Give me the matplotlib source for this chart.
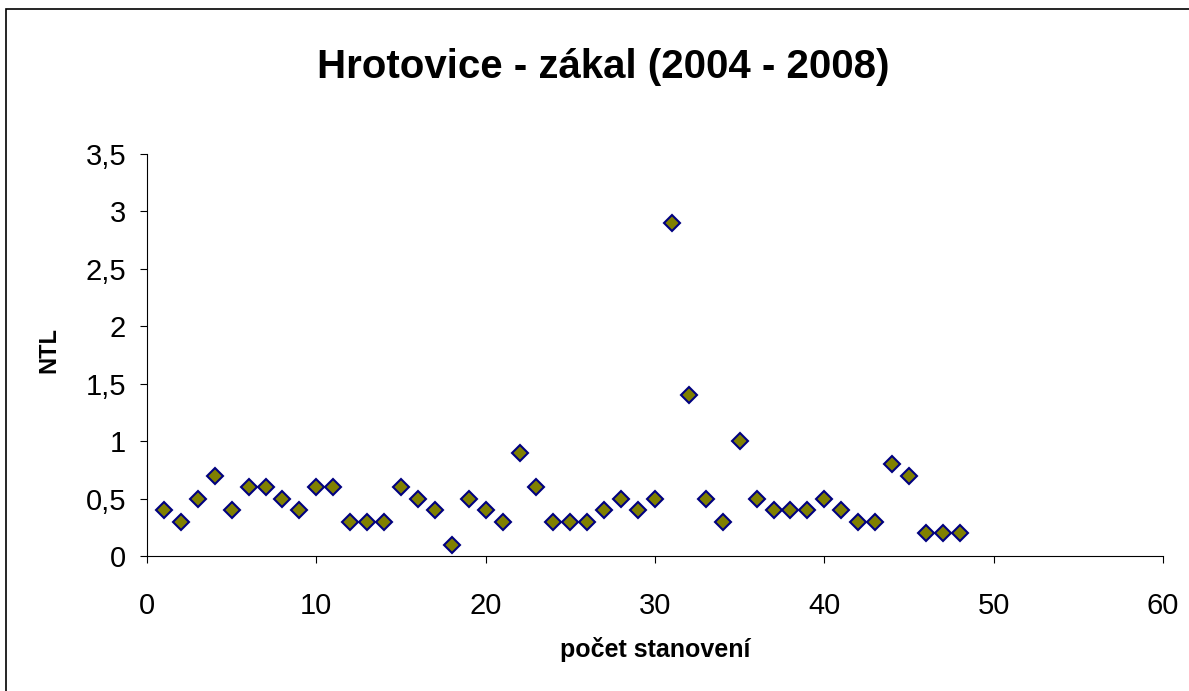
import matplotlib.pyplot as plt
from matplotlib.patches import Rectangle
from matplotlib.ticker import FuncFormatter

plt.rcParams['font.family'] = ['Liberation Sans', 'DejaVu Sans']

# data
x_vals = list(range(1, 49))
ntl = [0.4, 0.3, 0.5, 0.7, 0.4, 0.6, 0.6, 0.5, 0.4, 0.6,
       0.6, 0.3, 0.3, 0.3, 0.6, 0.5, 0.4, 0.1, 0.5, 0.4,
       0.3, 0.9, 0.6, 0.3, 0.3, 0.3, 0.4, 0.5, 0.4, 0.5,
       2.9, 1.4, 0.5, 0.3, 1.0, 0.5, 0.4, 0.4, 0.4, 0.5,
       0.4, 0.3, 0.3, 0.8, 0.7, 0.2, 0.2, 0.2]
x_ticks = [0, 10, 20, 30, 40, 50, 60]
y_ticks = [0, 0.5, 1, 1.5, 2, 2.5, 3, 3.5]

W, H = 1189, 691
fig = plt.figure(figsize=(W / 100, H / 100), dpi=100)

# outer chart border (right/bottom edges fall outside the image)
fig.patches.append(Rectangle((6 / W, -0.05), 1.2, 1 - 9 / H + 0.05,
                             transform=fig.transFigure, fill=False,
                             edgecolor="black", linewidth=1.2))

ax = fig.add_axes([147 / W, 135 / H, (1163 - 147) / W, (556 - 154) / H])

ax.plot(x_vals, ntl, linestyle="none", marker="D", markersize=8,
        markerfacecolor="#808000", markeredgecolor="#000080",
        markeredgewidth=1.5, clip_on=False)

ax.set_xlim(0, 60)
ax.set_ylim(0, 3.5)
ax.set_xticks(x_ticks)
ax.set_yticks(y_ticks)

fmt = FuncFormatter(lambda v, p: f"{v:g}".replace(".", ","))
ax.xaxis.set_major_formatter(fmt)
ax.yaxis.set_major_formatter(fmt)

ax.spines["top"].set_visible(False)
ax.spines["right"].set_visible(False)
ax.tick_params(axis="x", direction="out", length=5, pad=21, labelsize=21)
ax.tick_params(axis="y", direction="out", length=5, pad=10, labelsize=21)

ax.set_xlabel("počet stanovení", fontsize=18, fontweight="bold")
ax.xaxis.label.set_va("center")
ax.xaxis.set_label_coords(0.5, -0.233)

ax.set_ylabel("NTL", fontsize=17, fontweight="bold")
ax.yaxis.label.set_va("center")
ax.yaxis.set_label_coords(-0.0965, 0.512)

fig.text(603 / W, 1 - 67 / H, "Hrotovice - zákal (2004 - 2008)",
         ha="center", va="center", fontsize=29, fontweight="bold")

fig.savefig("out.png", dpi=100)
